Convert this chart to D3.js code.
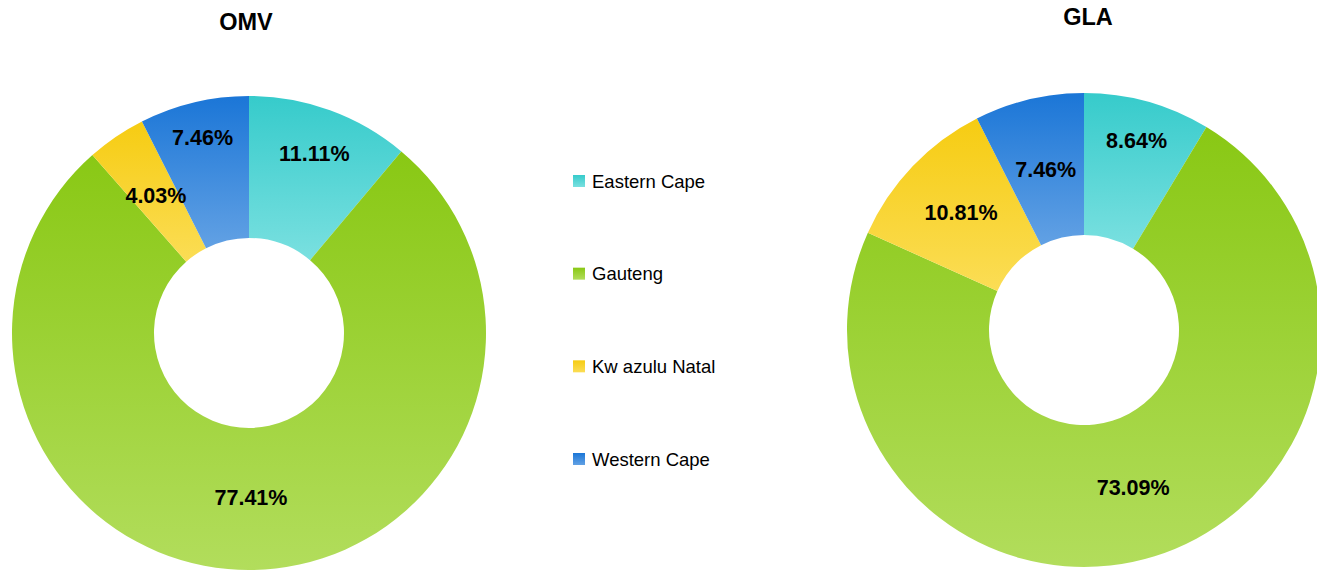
<!DOCTYPE html>
<html>
<head>
<meta charset="utf-8">
<script src="https://d3js.org/d3.v7.min.js"></script>
<style>
  body { margin: 0; background: #fff; }
  svg { display: block; font-family: "Liberation Sans", Arial, sans-serif; }
  .title { font-size: 23.5px; font-weight: bold; }
  .label { font-size: 21.5px; font-weight: bold; }
  .legend text { font-size: 18.5px; }
</style>
</head>
<body>
<svg width="1317" height="570"></svg>
<script>
// data
const regions = ["Eastern Cape", "Gauteng", "Kw azulu Natal", "Western Cape"];
const omvShare = [11.11, 77.41, 4.03, 7.46];
const glaShare = [8.64, 73.09, 10.81, 7.46];

// top / bottom colours of each slice gradient
const topColors = ["#36cbcb", "#89c814", "#f6cc12", "#1b76d7"];
const bottomColors = ["#7ae0e0", "#b2dd5c", "#fbdd55", "#62a1e4"];

const svg = d3.select("svg");
const defs = svg.append("defs");

regions.forEach((r, i) => {
  const g = defs.append("linearGradient")
    .attr("id", "grad" + i)
    .attr("x1", 0).attr("y1", 0).attr("x2", 0).attr("y2", 1);
  g.append("stop").attr("offset", "0%").attr("stop-color", topColors[i]);
  g.append("stop").attr("offset", "100%").attr("stop-color", bottomColors[i]);
});

// label distance from centre, chart by chart (some labels pushed out to avoid clashes)
const charts = [
  {title: "OMV", values: omvShare, cx: 249, cy: 333, titleX: 246, titleY: 30, labelR: [191, 165, 166, 200]},
  {title: "GLA", values: glaShare, cx: 1084, cy: 330, titleX: 1088, titleY: 25, labelR: [196, 165, 170, 165]}
];

const outerR = 237, innerR = 95;
const pie = d3.pie().sort(null).value(d => d);
const arc = d3.arc().innerRadius(innerR).outerRadius(outerR);

charts.forEach(c => {
  svg.append("text")
    .attr("class", "title")
    .attr("x", c.titleX).attr("y", c.titleY)
    .attr("text-anchor", "middle")
    .text(c.title);

  const g = svg.append("g").attr("transform", `translate(${c.cx},${c.cy})`);
  const arcs = pie(c.values);

  g.selectAll("path")
    .data(arcs)
    .join("path")
    .attr("d", arc)
    .attr("fill", (d, i) => `url(#grad${i})`);

  g.selectAll("text")
    .data(arcs)
    .join("text")
    .attr("class", "label")
    .attr("text-anchor", "middle")
    .attr("dominant-baseline", "central")
    .attr("transform", (d, i) => {
      const a = (d.startAngle + d.endAngle) / 2;
      const r = c.labelR[i];
      return `translate(${r * Math.sin(a)},${-r * Math.cos(a)})`;
    })
    .text(d => d.data.toFixed(2) + "%");
});

// legend
const legendY = d3.scalePoint().domain(regions).range([181, 459]);
const legend = svg.append("g").attr("class", "legend");
const items = legend.selectAll("g")
  .data(regions)
  .join("g")
  .attr("transform", d => `translate(573,${legendY(d)})`);
items.append("rect")
  .attr("x", 0).attr("y", -6).attr("width", 12).attr("height", 12)
  .attr("fill", (d, i) => `url(#grad${i})`);
items.append("text")
  .attr("x", 19).attr("y", 0)
  .attr("dominant-baseline", "central")
  .text(d => d);
</script>
</body>
</html>
